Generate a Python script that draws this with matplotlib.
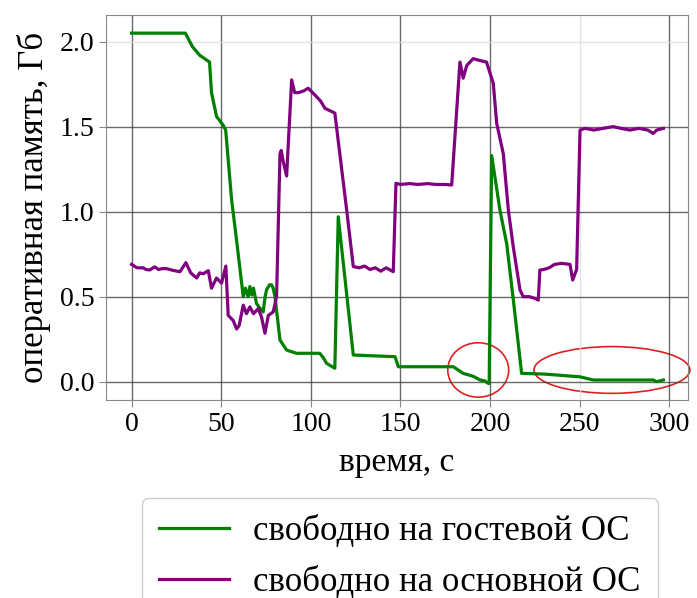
import matplotlib
matplotlib.use("Agg")
import matplotlib.pyplot as plt
from matplotlib.patches import Ellipse

# guest OS free memory
guest_t = [0, 30, 34, 38, 43.5, 44.6, 47.4, 51, 52.5, 55.8,
           58.6, 62.3, 63.5, 65, 66, 67, 68, 69.7, 71, 73.4,
           74.5, 75.3, 77, 78.1, 79, 80, 82.8, 86.5, 92, 105,
           107, 108.8, 113.4, 115.3, 123.7, 147, 148.8, 179.5, 182, 185,
           188, 191, 194.4, 197, 199, 199.5, 200.9, 205.5, 209.3, 213,
           217.6, 230, 250, 257.6, 275, 291, 293, 296.7]
guest_mem = [2.05, 2.05, 1.97, 1.92, 1.88, 1.70, 1.56, 1.51, 1.48, 1.07,
             0.83, 0.50, 0.55, 0.50, 0.56, 0.51, 0.55, 0.46, 0.44, 0.41,
             0.50, 0.54, 0.57, 0.57, 0.55, 0.50, 0.245, 0.186, 0.167, 0.167,
             0.14, 0.108, 0.079, 0.97, 0.157, 0.147, 0.088, 0.088, 0.07, 0.049,
             0.04, 0.03, 0.01, 0.005, -0.01, -0.01, 1.33, 1.01, 0.81, 0.48,
             0.049, 0.045, 0.029, 0.01, 0.01, 0.01, 0.0, 0.01]

# host OS free memory
host_t = [0, 3, 6.5, 8, 10.2, 12, 13, 15, 17, 19.5,
          23, 27, 30.3, 33, 36.3, 38, 40, 42.8, 44.6, 47.4,
          50.2, 52.6, 53.9, 56.7, 58.6, 60, 62.3, 64.1, 66, 68,
          70.7, 72.5, 74.4, 76.3, 79, 80.9, 82.8, 83.5, 84.5, 86.5,
          89.3, 91, 93, 96, 98.5, 101, 103.2, 105.5, 107.9, 113.4,
          120, 123.7, 127, 130, 133, 136, 139, 142, 146, 147.5,
          150, 155, 160, 165, 170, 175, 178.6, 183.2, 185, 187,
          190.6, 194, 198, 201.8, 203.7, 207.4, 210.2, 213, 216.7, 218.5,
          222, 225, 226.9, 227.8, 230, 233, 236, 240, 244.6, 246.1,
          248.3, 250.2, 253, 258, 263, 268.7, 273, 278, 283, 288,
          291, 293, 296.7]
host_mem = [0.69, 0.67, 0.67, 0.66, 0.657, 0.67, 0.675, 0.66, 0.665, 0.665,
            0.655, 0.647, 0.70, 0.64, 0.61, 0.64, 0.635, 0.653, 0.55, 0.61,
            0.58, 0.68, 0.39, 0.36, 0.31, 0.33, 0.45, 0.40, 0.44, 0.40,
            0.43, 0.38, 0.285, 0.39, 0.41, 0.50, 1.34, 1.36, 1.30, 1.21,
            1.775, 1.70, 1.70, 1.71, 1.726, 1.70, 1.676, 1.65, 1.608, 1.58,
            1.01, 0.677, 0.67, 0.68, 0.66, 0.67, 0.65, 0.67, 0.647, 1.167,
            1.16, 1.165, 1.16, 1.165, 1.16, 1.16, 1.157, 1.88, 1.785, 1.86,
            1.90, 1.89, 1.88, 1.755, 1.52, 1.34, 1.01, 0.79, 0.54, 0.50,
            0.50, 0.49, 0.48, 0.657, 0.66, 0.67, 0.69, 0.696, 0.69, 0.598,
            0.66, 1.48, 1.49, 1.48, 1.49, 1.50, 1.49, 1.48, 1.49, 1.48,
            1.46, 1.48, 1.49]

labels = ["свободно на гостевой ОС", "свободно на основной ОС"]
xticks = [0, 50, 100, 150, 200, 250, 300]
yticks = [0.0, 0.5, 1.0, 1.5, 2.0]

plt.rcParams['font.family'] = ['Liberation Serif', 'DejaVu Serif']

fig = plt.figure(figsize=(6.97, 5.98), dpi=100)
ax = fig.add_axes([0.152, 0.331, 0.835, 0.644])

ax.plot(guest_t, guest_mem, color='#008000', lw=2.3, label=labels[0])
ax.plot(host_t, host_mem, color='#800080', lw=2.3, label=labels[1])

ax.set_xlim(-14.3, 310.4)
ax.set_ylim(-0.108, 2.157)
ax.set_xticks(xticks)
ax.set_yticks(yticks)
ax.set_yticklabels([f"{v:.1f}" for v in yticks])
ax.tick_params(labelsize=20, color='#888888', length=5)
ax.grid(True, color='#444444', lw=1, alpha=0.8)
# a couple of gridlines look washed out in the original
for i, gl in enumerate(ax.get_xgridlines()):
    if xticks[i] == 250:
        gl.set_color('#dddddd')
for i, gl in enumerate(ax.get_ygridlines()):
    if yticks[i] == 2.0:
        gl.set_color('#dddddd')
for s in ax.spines.values():
    s.set_color('#888888')

ax.set_xlabel("время, с", fontsize=24, labelpad=8)
ax.set_ylabel("оперативная память, Гб", fontsize=25, labelpad=6)

ax.add_patch(Ellipse((193.4, 0.069), 34, 0.32, fill=False, ec='#e02020', lw=1.2))
ax.add_patch(Ellipse((268, 0.069), 87, 0.275, fill=False, ec='#e02020', lw=1.2, clip_on=False))

fig.legend(loc='upper left', bbox_to_anchor=(142 / 697, 1 - 498 / 598), fontsize=25,
           handlelength=2.0, handletextpad=0.7, borderpad=0.5, labelspacing=0.5,
           borderaxespad=0, framealpha=1, edgecolor='#cccccc')

fig.savefig("out.png", dpi=100)
